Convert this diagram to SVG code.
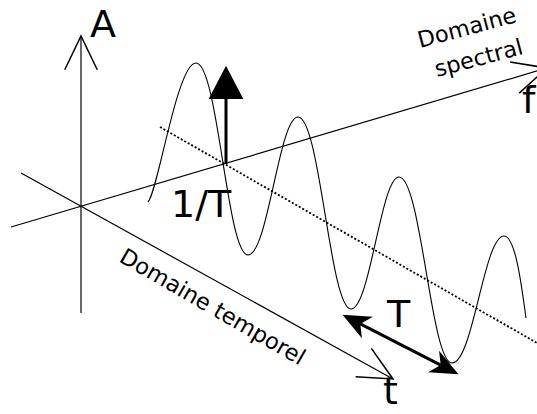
<svg xmlns="http://www.w3.org/2000/svg" width="537" height="414" viewBox="0 0 537 414">
  <style>
    .axis { stroke: #000; stroke-width: 1.2; fill: none; }
    .wave { stroke: #000; stroke-width: 1.1; fill: none; }
    .dotted { stroke: #000; stroke-width: 1.8; stroke-dasharray: 2 2; fill: none; }
    .thick { stroke: #000; stroke-width: 3; fill: none; }
    .lbl { font-family: "DejaVu Sans", Verdana, sans-serif; fill: #000; }
    .big { font-size: 38px; }
    .small { font-size: 22.5px; }
  </style>
  <defs>
    <marker id="open" markerUnits="userSpaceOnUse" orient="auto" markerWidth="40" markerHeight="40" refX="0" refY="0" viewBox="-30 -15 32 30" overflow="visible">
      <path d="M-27,-13 L0,0 L-27,13" fill="none" stroke="#000" stroke-width="1.2"/>
    </marker>
    <marker id="concave" markerUnits="userSpaceOnUse" orient="auto-start-reverse" markerWidth="40" markerHeight="40" refX="0" refY="0" viewBox="-10 -12 30 24" overflow="visible">
      <path d="M15,0 L-6,-9 L0,0 L-6,9 z" fill="#000"/>
    </marker>
    <marker id="tri" markerUnits="userSpaceOnUse" orient="auto" markerWidth="40" markerHeight="40" refX="0" refY="0" viewBox="-2 -14 30 28" overflow="visible">
      <path d="M25,0 L0,-13 L0,13 z" fill="#000"/>
    </marker>
  </defs>

  <g id="connectors">
    <line id="axis-A" class="axis" x1="81" y1="313" x2="81" y2="36" marker-end="url(#open)"/>
    <line id="axis-t" class="axis" x1="21" y1="173" x2="393" y2="379" marker-end="url(#open)"/>
    <line id="axis-f" class="axis" x1="11" y1="227" x2="547" y2="68" marker-end="url(#open)"/>
    <line id="dotted-line" class="dotted" x1="160" y1="127" x2="537" y2="343"/>
    <line id="arrow-1T" class="thick" stroke-width="3.5" x1="226" y1="164" x2="226" y2="99" marker-end="url(#tri)"/>
    <line id="arrow-T" class="thick" x1="360.3" y1="323.9" x2="440.7" y2="365.1" marker-start="url(#concave)" marker-end="url(#concave)"/>
  </g>

  <g id="wave">
    <path class="wave" d="M148,202 C158,192 177,63 196,63 C218,63 227,255 248,255 C268,255 279,117 298,117 C320,117 330,309 351,309 C370,309 381,177 399,177 C421,177 431,363 452,363 C473,363 484,236 504,236 C516,236 522,290 526,318"/>
  </g>

  <g id="label-A"><text class="lbl big" x="90" y="37">A</text></g>
  <g id="label-f"><text class="lbl big" x="522" y="113">f</text></g>
  <g id="label-t"><text class="lbl big" x="383" y="404">t</text></g>
  <g id="label-1T"><text class="lbl big" x="171" y="217">1/T</text></g>
  <g id="label-T"><text class="lbl big" x="387" y="327">T</text></g>
  <g id="label-spectral">
    <text class="lbl small" transform="translate(420,48) rotate(-15)">Domaine</text>
    <text class="lbl small" transform="translate(437,77) rotate(-15)">spectral</text>
  </g>
  <g id="label-temporel">
    <text class="lbl small" transform="translate(118,261) rotate(30)">Domaine temporel</text>
  </g>
</svg>
